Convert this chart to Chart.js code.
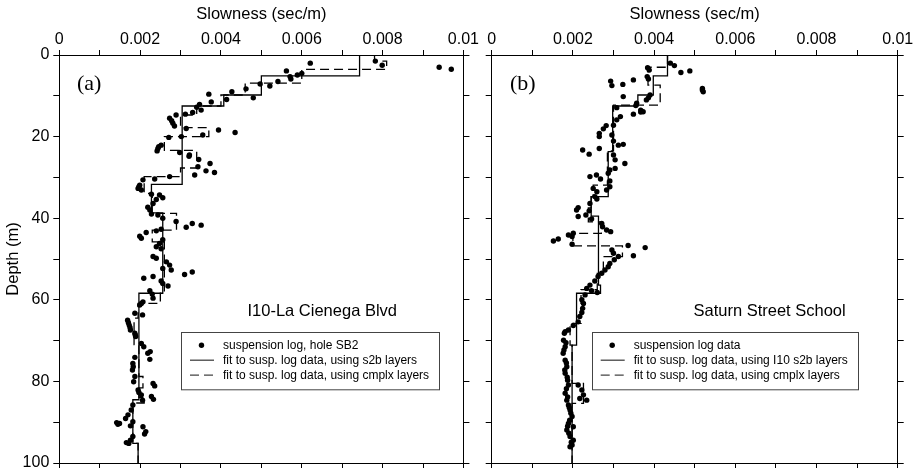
<!DOCTYPE html>
<html><head><meta charset="utf-8">
<script src="https://cdn.jsdelivr.net/npm/chart.js@4.4.1/dist/chart.umd.min.js"></script>
<style>
html,body{margin:0;padding:0;background:#fff;overflow:hidden;width:915px;height:468px;}
#wa{position:absolute;left:0;top:0;width:480px;height:480px;}
#wb{position:absolute;left:470px;top:0;width:445px;height:480px;}
canvas{display:block;}
</style></head><body>
<div id="wa"><canvas id="ca" width="480" height="480" style="width:480px;height:480px"></canvas></div>
<div id="wb"><canvas id="cb" width="445" height="480" style="width:445px;height:480px"></canvas></div>
<script>
// ---- tick labels ----
const slownessLabels = [0, 0.002, 0.004, 0.006, 0.008, 0.01];
const depthLabels = [0, 20, 40, 60, 80, 100];

// ---- Panel (a): I10-La Cienega Blvd, suspension log hole SB2 ----
const aLogSlow = [
0.00621,0.00782,0.00799,0.00940,0.00970,0.00562,0.00600,0.00589,0.00571,0.00573,
0.00541,0.00521,0.00497,0.00462,0.00480,0.00427,0.00414,0.00370,0.00376,0.00347,
0.00340,0.00351,0.00330,0.00312,0.00289,0.00273,0.00281,0.00285,0.00314,0.00355,
0.00394,0.00435,0.00302,0.00271,0.00252,0.00244,0.00242,0.00298,0.00322,0.00345,
0.00321,0.00373,0.00343,0.00363,0.00384,0.00335,0.00273,0.00236,0.00207,0.00199,
0.00195,0.00203,0.00228,0.00248,0.00256,0.00240,0.00232,0.00219,0.00224,0.00228,
0.00244,0.00256,0.00289,0.00314,0.00329,0.00351,0.00240,0.00215,0.00199,0.00203,
0.00252,0.00256,0.00248,0.00240,0.00252,0.00232,0.00240,0.00265,0.00273,0.00277,
0.00256,0.00232,0.00209,0.00310,0.00329,0.00252,0.00256,0.00269,0.00224,0.00230,
0.00232,0.00207,0.00203,
0.00199,0.00187,0.00206,0.00169,0.00173,0.00176,0.00187,0.00189,0.00203,0.00209,
0.00225,0.00219,0.00224,0.00187,0.00182,0.00181,0.00187,0.00184,0.00232,0.00236,
0.00195,0.00203,0.00206,0.00228,0.00233,0.00182,0.00178,0.00170,0.00164,0.00142,
0.00145,0.00176,0.00182,0.00207,0.00214,0.00211,0.00182,0.00176,0.00166,
0.00278,0.00246,0.00197,0.00171,0.00175,0.00188,0.00183,0.00197,0.00149,0.00172];
const aLogDepth = [
2.0,1.5,2.5,3.0,3.5,3.9,4.5,4.9,5.3,5.9,
6.5,7.6,7.1,8.3,10.5,9.0,10.9,9.6,11.5,12.1,
12.8,13.5,14.1,14.5,14.7,15.5,16.7,17.4,18.0,19.6,
18.4,19.0,20.0,20.2,22.1,22.9,23.5,23.9,24.5,25.6,
24.8,26.6,27.4,28.4,28.8,29.4,29.8,30.4,30.6,31.9,
32.7,33.1,34.1,34.3,35.0,35.4,36.4,37.3,38.0,39.0,
39.2,40.0,40.8,42.2,41.3,41.7,43.1,43.5,44.4,44.9,
42.7,45.3,46.2,47.0,47.5,49.4,49.8,50.7,51.5,52.7,
52.3,54.3,54.7,53.8,53.2,55.4,56.0,56.6,57.8,58.6,
59.6,60.5,60.9,
61.3,63.3,63.7,65.0,66.2,67.4,68.2,69.0,70.7,71.5,
72.7,73.1,74.6,74.1,75.6,77.2,78.8,80.1,80.5,81.1,
82.1,83.3,84.6,83.7,84.4,85.8,87.0,88.2,89.1,90.1,
90.5,90.9,89.9,91.1,92.3,92.9,93.5,94.4,95.0,
16.1,22.5,32.3,65.6,66.8,68.6,76.4,82.7,90.3,95.2];
// layered fits: layer boundaries (depth, m) and layer slowness (sec/m)
const aS2bBounds = [0, 5.1, 9.8, 12.5, 31.7, 38.7, 58.4, 84.5, 95.2, 100];
const aS2bSlow   = [0.00743, 0.00500, 0.00407, 0.00304, 0.00228, 0.00256, 0.00197, 0.00182, 0.00195];
const aCmplxBounds = [0, 1.5, 3.5, 6.9, 9.8, 12.5, 14.7, 17.8, 20.0, 23.4, 27.7, 29.8, 33.9, 38.8, 42.9, 45.8, 58.4, 60.9, 64.5, 71.0, 78.8, 81.6, 84.0, 85.3, 95.2, 100];
const aCmplxSlow   = [0.00780, 0.00810, 0.00600, 0.00460, 0.00400, 0.00340, 0.00300, 0.00370, 0.00260, 0.00340, 0.00300, 0.00210, 0.00230, 0.00290, 0.00230, 0.00260, 0.00250, 0.00195, 0.00185, 0.00197, 0.00207, 0.00197, 0.00210, 0.00182, 0.00195];

// ---- Panel (b): Saturn Street School ----
const bLogSlow = [
0.00440,0.00450,0.00466,0.00488,0.00384,0.00388,0.00383,0.00386,0.00349,0.00323,
0.00293,0.00296,0.00519,0.00519,0.00521,0.00324,0.00390,0.00386,0.00381,0.00357,
0.00355,0.00308,0.00373,0.00367,0.00349,0.00367,0.00317,0.00308,0.00300,0.00282,
0.00275,0.00265,0.00265,0.00296,0.00300,0.00312,0.00324,0.00224,0.00240,0.00265,
0.00300,0.00304,0.00328,0.00291,0.00287,0.00304,0.00242,0.00258,0.00268,0.00291,
0.00291,0.00250,0.00259,0.00283,0.00254,0.00259,0.00242,0.00213,0.00209,0.00240,
0.00232,0.00213,0.00246,0.00271,0.00273,0.00283,0.00293,0.00201,0.00189,0.00198,
0.00152,0.00164,0.00198,0.00336,0.00378,0.00349,0.00296,0.00300,0.00312,0.00302,
0.00291,0.00287,0.00279,0.00271,0.00262,0.00254,0.00242,0.00234,0.00260,0.00246,
0.00230,0.00222,0.00226,0.00224,0.00222,0.00217,0.00213,0.00201,0.00189,0.00181,
0.00179,0.00177,0.00181,0.00176,0.00181,0.00185,0.00181,0.00187,0.00189,0.00181,
0.00185,0.00189,0.00193,0.00213,0.00222,0.00226,0.00234,0.00217,0.00198,0.00189,
0.00185,0.00193,0.00198,0.00201,0.00193,0.00201,0.00183,0.00178,0.00184,0.00180,
0.00186,0.00184,0.00187,0.00191,0.00195,0.00192,0.00187,0.00190,0.00196];
const bLogDepth = [
2.0,2.6,4.3,3.9,3.1,3.7,5.3,5.9,6.1,7.2,
6.4,7.5,8.2,8.6,9.0,10.2,9.8,10.5,11.0,11.8,
12.4,12.9,13.9,13.5,14.5,14.0,15.1,15.9,17.2,17.3,
18.1,19.2,20.0,19.6,21.1,22.1,21.9,23.3,24.3,22.9,
24.5,25.7,26.6,28.2,29.0,27.8,29.8,29.4,30.4,30.9,
32.3,32.7,33.5,33.1,34.7,35.3,36.4,37.4,38.0,38.2,
39.2,39.6,40.2,41.3,42.1,42.9,43.3,43.7,44.1,44.5,
45.6,45.1,46.4,46.7,47.2,49.2,47.8,48.6,49.4,50.2,
51.1,51.9,52.7,53.5,54.3,55.4,56.4,57.2,58.2,57.8,
58.8,60.0,60.9,62.1,63.1,64.1,65.4,66.3,67.4,67.8,
68.2,69.9,71.5,73.1,74.8,76.4,78.0,79.7,80.9,82.9,
84.6,85.8,87.0,80.9,82.1,83.3,84.6,84.2,88.6,90.3,
91.9,93.5,95.6,94.4,96.0,91.1,70.5,72.3,75.5,77.2,
79.0,81.8,83.8,86.4,87.8,89.5,91.0,92.7,94.9];
const bS2bBounds = [0, 5.1, 9.8, 12.5, 23.7, 34.7, 39.5, 56.4, 58.4, 71.1, 100];
const bS2bSlow   = [0.00433, 0.00398, 0.00360, 0.00298, 0.00287, 0.00245, 0.00263, 0.00268, 0.00209, 0.00198];
const bCmplxBounds = [0, 3.0, 7.4, 12.3, 23.5, 31.9, 34.7, 37.5, 40.9, 43.7, 46.8, 49.4, 53.5, 57.5, 65.8, 71.1, 80.5, 85.4, 100];
const bCmplxSlow   = [0.00433, 0.00385, 0.00415, 0.00300, 0.00285, 0.00250, 0.00245, 0.00238, 0.00270, 0.00200, 0.00322, 0.00275, 0.00260, 0.00220, 0.00193, 0.00198, 0.00226, 0.00198];

// ---- helpers ----
const SANS = '"Liberation Sans", Arial, Helvetica, sans-serif';
function toPoints(xs, ys){ return xs.map((x,i)=>({x:x, y:ys[i]})); }
function stepPoints(bounds, slow){
  const pts=[];
  slow.forEach((s,i)=>{ pts.push({x:s,y:bounds[i]}); pts.push({x:s,y:bounds[i+1]}); });
  return pts;
}
function slowLabel(v){
  const m = slownessLabels.find(t => Math.abs(t - v) < 1e-7);
  return m === undefined ? '' : String(m);
}
function depthLabel(v){
  const m = depthLabels.find(t => Math.abs(t - v) < 1e-6);
  return m === undefined ? '' : String(m);
}

const annotPlugin = {
  id: 'annot',
  afterDraw(chart, args, o){
    const ctx = chart.ctx;
    ctx.save();
    ctx.fillStyle = '#000';
    ctx.font = '22px "Liberation Serif", "Times New Roman", serif';
    ctx.textAlign = 'left'; ctx.textBaseline = 'alphabetic';
    ctx.fillText(o.panel, o.panelX, o.panelY);
    ctx.font = '16.5px ' + SANS;
    ctx.textAlign = 'right';
    ctx.fillText(o.site, o.siteX, o.siteY);
    // legend box
    const L = o.legend;
    ctx.strokeStyle = '#444'; ctx.lineWidth = 1;
    ctx.strokeRect(Math.round(L.x)+0.5, Math.round(L.y)+0.5, L.w, L.h);
    const rows = [L.y+13.5, L.y+28.5, L.y+43.5];
    ctx.beginPath(); ctx.arc(L.x+20.5, rows[0], 2.7, 0, Math.PI*2); ctx.fill();
    ctx.lineWidth = 1.3;
    ctx.beginPath(); ctx.moveTo(L.x+9, rows[1]); ctx.lineTo(L.x+33, rows[1]); ctx.stroke();
    ctx.setLineDash([9,5]);
    ctx.beginPath(); ctx.moveTo(L.x+9, rows[2]); ctx.lineTo(L.x+33, rows[2]); ctx.stroke();
    ctx.setLineDash([]);
    ctx.font = '12px ' + SANS;
    ctx.textAlign = 'left'; ctx.textBaseline = 'middle';
    L.texts.forEach((t,i)=> ctx.fillText(t, L.x+42, rows[i]));
    ctx.restore();
  }
};

function makeChart(id, c){
  return new Chart(document.getElementById(id), {
    type: 'scatter',
    data: { datasets: [
      { label: c.legendTexts[0], data: toPoints(c.logSlow, c.logDepth), pointRadius: 2.7, pointHoverRadius: 2.7,
        backgroundColor: '#000', borderWidth: 0, pointBorderWidth: 0 },
      { label: c.legendTexts[1], data: stepPoints(c.s2bBounds, c.s2bSlow), showLine: true, pointRadius: 0,
        borderColor: '#000', borderWidth: 1.3, fill: false, tension: 0 },
      { label: c.legendTexts[2], data: stepPoints(c.cmplxBounds, c.cmplxSlow), showLine: true, pointRadius: 0,
        borderColor: '#000', borderWidth: 1.3, borderDash: [9,5], fill: false, tension: 0 }
    ]},
    options: {
      responsive: false, animation: false, devicePixelRatio: 1,
      layout: { padding: 0 },
      events: [],
      plugins: {
        legend: { display: false }, tooltip: { enabled: false },
        annot: c.annot
      },
      scales: {
        x: {
          type: 'linear', position: 'top', min: 0, max: 0.01,
          ticks: { stepSize: 0.001, autoSkip: false, maxRotation: 0, padding: 1, color: '#000',
                   font: { family: SANS, size: 16 }, callback: v => slowLabel(v) },
          grid: { drawOnChartArea: false, drawTicks: true, tickLength: 5, color: '#000', lineWidth: 1 },
          border: { display: true, color: '#000', width: 1 },
          title: { display: true, text: 'Slowness (sec/m)', color: '#000', font: { family: SANS, size: 16.5 },
                   padding: { top: 5, bottom: 0 } },
          afterFit: s => { s.height = 55; }
        },
        x2: {
          type: 'linear', position: 'bottom', min: 0, max: 0.01,
          ticks: { stepSize: 0.001, autoSkip: false, maxRotation: 0, callback: () => '' },
          grid: { drawOnChartArea: false, drawTicks: true, tickLength: 5, color: '#000', lineWidth: 1 },
          border: { display: true, color: '#000', width: 1 },
          afterFit: s => { s.height = 17; }
        },
        y: {
          type: 'linear', position: 'left', min: 0, max: 100, reverse: true,
          ticks: { stepSize: 10, autoSkip: false, padding: 4, color: '#000', font: { family: SANS, size: 16 },
                   callback: v => c.showDepthLabels ? depthLabel(v) : '' },
          grid: { drawOnChartArea: false, drawTicks: true, tickLength: 6, color: '#000', lineWidth: 1 },
          border: { display: true, color: '#000', width: 1 },
          title: { display: c.showDepthLabels, text: 'Depth (m)', color: '#000', font: { family: SANS, size: 16.5 },
                   padding: { top: 4, bottom: 0 } },
          afterFit: s => { s.width = c.leftWidth; }
        },
        y2: {
          type: 'linear', position: 'right', min: 0, max: 100, reverse: true,
          ticks: { stepSize: 10, autoSkip: false, callback: () => '' },
          grid: { drawOnChartArea: false, drawTicks: true, tickLength: 6, color: '#000', lineWidth: 1 },
          border: { display: true, color: '#000', width: 1 },
          afterFit: s => { s.width = c.rightWidth; }
        }
      }
    },
    plugins: [annotPlugin]
  });
}

makeChart('ca', {
  logSlow: aLogSlow, logDepth: aLogDepth,
  s2bBounds: aS2bBounds, s2bSlow: aS2bSlow, cmplxBounds: aCmplxBounds, cmplxSlow: aCmplxSlow,
  legendTexts: ['suspension log, hole SB2', 'fit to susp. log data, using s2b layers', 'fit to susp. log data, using cmplx layers'],
  showDepthLabels: true, leftWidth: 59.3, rightWidth: 15,
  annot: { panel: '(a)', panelX: 77, panelY: 89.5, site: 'I10-La Cienega Blvd', siteX: 397, siteY: 316,
           legend: { x: 181, y: 331.7, w: 258, h: 57.3,
                     texts: ['suspension log, hole SB2', 'fit to susp. log data, using s2b layers', 'fit to susp. log data, using cmplx layers'] } }
});
makeChart('cb', {
  logSlow: bLogSlow, logDepth: bLogDepth,
  s2bBounds: bS2bBounds, s2bSlow: bS2bSlow, cmplxBounds: bCmplxBounds, cmplxSlow: bCmplxSlow,
  legendTexts: ['suspension log data', 'fit to susp. log data, using I10 s2b layers', 'fit to susp. log data, using cmplx layers'],
  showDepthLabels: false, leftWidth: 21.7, rightWidth: 17.3,
  annot: { panel: '(b)', panelX: 40, panelY: 89.5, site: 'Saturn Street School', siteX: 375.7, siteY: 316,
           legend: { x: 121.7, y: 331.7, w: 266, h: 57.3,
                     texts: ['suspension log data', 'fit to susp. log data, using I10 s2b layers', 'fit to susp. log data, using cmplx layers'] } }
});
</script></body></html>
